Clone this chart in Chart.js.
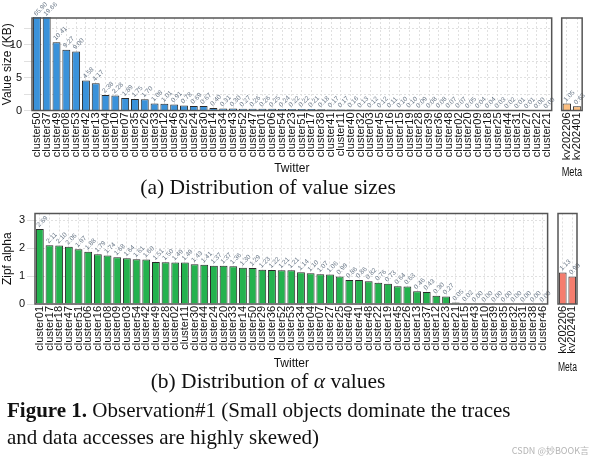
<!DOCTYPE html>
<html>
<head>
<meta charset="utf-8">
<script src="https://cdn.jsdelivr.net/npm/chart.js@4.4.1/dist/chart.umd.min.js"></script>
<style>
  html, body { margin:0; padding:0; background:#fff; }
  body { width:595px; height:460px; position:relative; overflow:hidden; }
  .box { position:absolute; }
  .cap { position:absolute; font-family:"Liberation Serif", serif; color:#111; white-space:nowrap; }
  #wm { position:absolute; right:6px; top:444px; font:9px "Noto Sans CJK SC", "Liberation Sans", sans-serif; color:#b4b4b4; }
</style>
</head>
<body>
<div class="box" style="left:0;top:0;width:562px;height:180px"><canvas id="sizeMain"></canvas></div>
<div class="box" style="left:556px;top:0;width:39px;height:180px"><canvas id="sizeMeta"></canvas></div>
<div class="box" style="left:0;top:195px;width:558px;height:180px"><canvas id="alphaMain"></canvas></div>
<div class="box" style="left:553px;top:195px;width:42px;height:180px"><canvas id="alphaMeta"></canvas></div>

<div class="cap" style="left:0;width:536px;top:175px;text-align:center;font-size:21.5px">(a) Distribution of value sizes</div>
<div class="cap" style="left:0;width:536px;top:369px;text-align:center;font-size:21.5px">(b) Distribution of <i>α</i> values</div>
<div class="cap" style="left:7px;top:398px;font-size:21px"><b>Figure 1.</b> Observation#1 (Small objects dominate the traces</div>
<div class="cap" style="left:7px;top:425px;font-size:21px">and data accesses are highly skewed)</div>
<div id="wm">CSDN @妙BOOK言</div>

<script>
/* ---- data: value sizes (KB) ---- */
const sizeClusters = ['cluster50','cluster37','cluster49','cluster08','cluster53','cluster42','cluster13','cluster04','cluster10','cluster07',
  'cluster35','cluster26','cluster33','cluster12','cluster46','cluster29','cluster24','cluster30','cluster14','cluster34',
  'cluster43','cluster52','cluster47','cluster01','cluster06','cluster54','cluster23','cluster51','cluster17','cluster38',
  'cluster41','cluster11','cluster40','cluster32','cluster03','cluster45','cluster16','cluster15','cluster19','cluster28',
  'cluster39','cluster36','cluster48','cluster02','cluster20','cluster09','cluster18','cluster25','cluster44','cluster31',
  'cluster27','cluster22','cluster21'];
const sizeValues = [65.90,19.66,10.41,9.27,9.00,4.58,4.17,2.38,2.28,1.89,
  1.75,1.70,1.08,1.01,0.91,0.78,0.69,0.67,0.40,0.31,
  0.30,0.27,0.26,0.26,0.25,0.24,0.22,0.22,0.21,0.18,
  0.17,0.17,0.16,0.13,0.12,0.12,0.11,0.10,0.10,0.09,
  0.08,0.08,0.07,0.07,0.05,0.04,0.04,0.03,0.02,0.01,
  0.01,0.00,0.00];
const metaTraces = ['kv202206','kv202401'];
const metaSizes  = [1.05, 0.63];
const sizeGrid   = [0, 2.5, 5, 7.5, 10, 12.5];   // grid lines
const sizeTicks  = [0, 5, 10];                   // labelled ticks

/* ---- data: zipf alpha ---- */
const alphaClusters = ['cluster01','cluster17','cluster18','cluster47','cluster51','cluster06','cluster16','cluster08','cluster09','cluster03',
  'cluster54','cluster42','cluster49','cluster28','cluster02','cluster11','cluster30','cluster44','cluster24','cluster20',
  'cluster33','cluster14','cluster50','cluster29','cluster36','cluster52','cluster53','cluster34','cluster04','cluster07',
  'cluster27','cluster25','cluster40','cluster41','cluster48','cluster22','cluster19','cluster45','cluster26','cluster13',
  'cluster37','cluster12','cluster23','cluster21','cluster15','cluster43','cluster10','cluster39','cluster35','cluster32',
  'cluster31','cluster38','cluster46'];
const alphaValues = [2.69,2.11,2.10,2.06,1.97,1.88,1.79,1.74,1.68,1.64,
  1.61,1.60,1.51,1.50,1.49,1.49,1.43,1.41,1.37,1.37,
  1.36,1.30,1.29,1.23,1.22,1.21,1.21,1.14,1.10,1.07,
  1.06,0.99,0.86,0.86,0.82,0.76,0.73,0.64,0.63,0.46,
  0.43,0.30,0.27,0.05,0.02,0.00,0.00,0.00,0.00,0.00,
  0.00,0.00,0.00];
const metaAlphas = [1.13, 0.99];
const alphaGrid  = [0, 0.5, 1, 1.5, 2, 2.5, 3];
const alphaTicks = [0, 1, 2, 3];

const SANS = '"Liberation Sans", Arial, sans-serif';

/* panel frame + rotated value labels */
const panelPlugin = {
  id: 'panel',
  afterDatasetsDraw (chart) {
    const { ctx, chartArea: a } = chart;
    const meta = chart.getDatasetMeta(0);
    const vals = chart.data.datasets[0].data;
    ctx.save();
    ctx.font = '6.5px ' + SANS;
    ctx.fillStyle = '#6a7888';
    ctx.textAlign = 'left';
    ctx.textBaseline = 'middle';
    meta.data.forEach((bar, i) => {
      const y = Math.max(bar.y, a.top);
      ctx.save();
      ctx.translate(bar.x - 2, y - 3);
      ctx.rotate(-Math.PI / 4);
      ctx.fillText(vals[i].toFixed(2), 0, 0);
      ctx.restore();
    });
    ctx.strokeStyle = '#555';
    ctx.lineWidth = 1.5;
    ctx.strokeRect(a.left, a.top, a.right - a.left, a.bottom - a.top);
    ctx.restore();
  }
};

function makeBar (id, labels, values, color, o) {
  return new Chart(document.getElementById(id), {
    type: 'bar',
    data: { labels, datasets: [{
      data: values,
      backgroundColor: color,
      borderColor: '#2a2a2a',
      borderWidth: 1,
      categoryPercentage: 0.9,
      barPercentage: 0.9,
      clip: 1
    }]},
    options: {
      responsive: true,
      maintainAspectRatio: false,
      animation: false,
      layout: { padding: o.pad },
      plugins: { legend: { display: false }, tooltip: { enabled: false } },
      scales: {
        x: {
          grid: { offset: false, color: '#d8d8d8', lineWidth: 0.8, drawTicks: false },
          border: { display: false, dash: [2, 2] },
          ticks: { autoSkip: false, minRotation: 90, maxRotation: 90, padding: 2,
                   color: '#111', font: { family: SANS, size: 11 } },
          title: { display: true, text: o.xTitle, color: '#111',
                   font: { family: SANS, size: 12 }, padding: o.xTitlePad },
          afterFit: s => { s.height = o.xHeight; }
        },
        y: {
          display: o.showY,
          min: 0, max: o.yMax,
          grid: { color: '#d8d8d8', lineWidth: 0.8, drawTicks: o.showY },
          border: { display: false, dash: [2, 2] },
          afterBuildTicks: s => { s.ticks = o.grid.map(v => ({ value: v })); },
          ticks: { padding: 2, color: '#111', font: { family: SANS, size: 11 },
                   callback: v => (o.labels.includes(v) ? v : '') },
          title: { display: true, text: o.yTitle, color: '#111',
                   font: { family: SANS, size: 12 }, padding: 0 },
          afterFit: s => { s.width = o.yWidth; }
        }
      }
    },
    plugins: [panelPlugin]
  });
}

makeBar('sizeMain', sizeClusters, sizeValues, '#3a92da', {
  pad: { top: 18, right: 2, left: 0, bottom: 0 }, xTitle: 'Twitter', xTitlePad: { top: 0, bottom: 4 },
  xHeight: 69.5, showY: true, yMax: 14.1, grid: sizeGrid, labels: sizeTicks, yTitle: 'Value size (KB)', yWidth: 32
});
makeBar('sizeMeta', metaTraces, metaSizes, '#fdbf80', {
  pad: { top: 18, right: 11, left: 5.7, bottom: 0 }, xTitle: 'Meta', xTitlePad: { top: 0, bottom: 0 },
  xHeight: 69.5, showY: false, yMax: 14.1, grid: sizeGrid, labels: sizeTicks, yTitle: '', yWidth: 0
});
makeBar('alphaMain', alphaClusters, alphaValues, '#24b24e', {
  pad: { top: 18.5, right: 2, left: 0, bottom: 0 }, xTitle: 'Twitter', xTitlePad: { top: 0, bottom: 4 },
  xHeight: 71, showY: true, yMax: 3.25, grid: alphaGrid, labels: alphaTicks, yTitle: 'Zipf alpha', yWidth: 35
});
makeBar('alphaMeta', metaTraces, metaAlphas, '#f57d6e', {
  pad: { top: 18.5, right: 18, left: 5, bottom: 0 }, xTitle: 'Meta', xTitlePad: { top: 0, bottom: 0 },
  xHeight: 71, showY: false, yMax: 3.25, grid: alphaGrid, labels: alphaTicks, yTitle: '', yWidth: 0
});
</script>
</body>
</html>
